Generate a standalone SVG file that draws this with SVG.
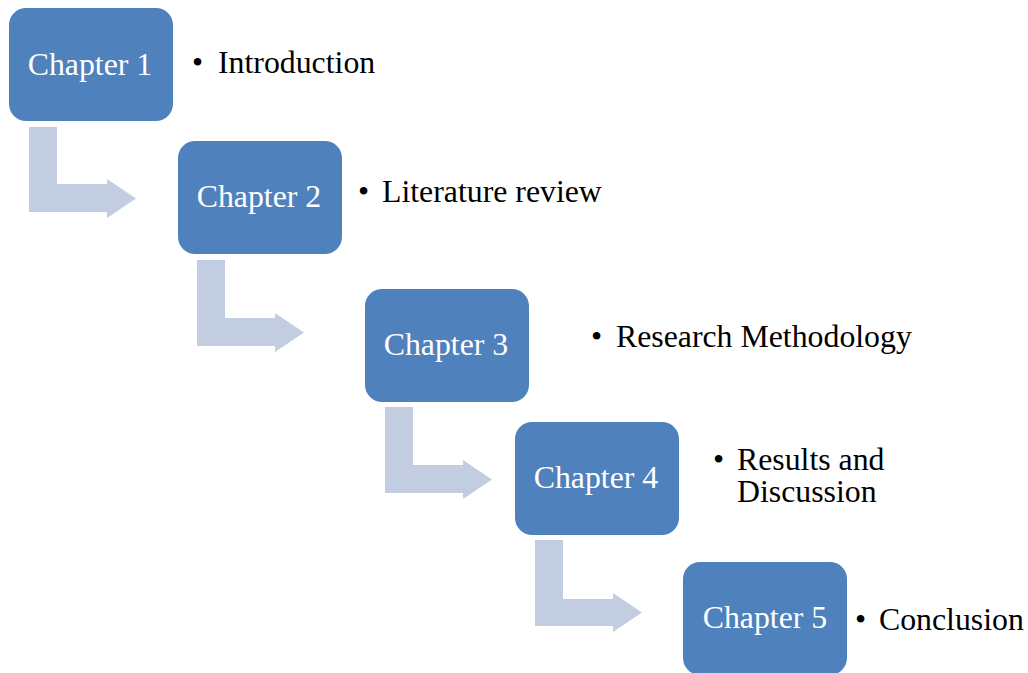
<svg xmlns="http://www.w3.org/2000/svg" width="1028" height="673" viewBox="0 0 1028 673">
<style>
.box{fill:#4F81BD;}
.arr{fill:#C3CDE2;}
.ch{font-family:"Liberation Serif","Times New Roman",serif;font-size:31.8px;fill:#FFFFFF;text-anchor:middle;}
.bl{font-family:"Liberation Serif","Times New Roman",serif;font-size:31.8px;fill:#000000;}
</style>
<rect width="1028" height="673" fill="#FFFFFF"/>
<g id="connectors">
<path class="arr" d="M29,127 H57 V184 H107 V179 L136,198.5 L107,218 V212 H29 Z"/>
<path class="arr" d="M197,260 H225 V318 H275 V313 L304,332.5 L275,352 V346 H197 Z"/>
<path class="arr" d="M385,407 H413 V465 H463 V460 L492,479.5 L463,499 V493 H385 Z"/>
<path class="arr" d="M535,540 H563 V599 H613 V593 L642,612.5 L613,632 V626 H535 Z"/>
</g>
<g id="node1">
<rect class="box" x="9" y="8" width="164" height="113" rx="17"/>
<text class="ch" x="90" y="75">Chapter 1</text>
<text class="bl" x="192" y="73">•</text>
<text class="bl" x="218" y="73">Introduction</text>
</g>
<g id="node2">
<rect class="box" x="178" y="141" width="164" height="113" rx="17"/>
<text class="ch" x="259" y="207">Chapter 2</text>
<text class="bl" x="358" y="202">•</text>
<text class="bl" x="382" y="202">Literature review</text>
</g>
<g id="node3">
<rect class="box" x="365" y="289" width="164" height="113" rx="17"/>
<text class="ch" x="446" y="355">Chapter 3</text>
<text class="bl" x="591" y="347">•</text>
<text class="bl" x="616" y="347">Research Methodology</text>
</g>
<g id="node4">
<rect class="box" x="515" y="422" width="164" height="113" rx="17"/>
<text class="ch" x="596" y="488">Chapter 4</text>
<text class="bl" x="713" y="470">•</text>
<text class="bl" x="737" y="470">Results and</text>
<text class="bl" x="737" y="502">Discussion</text>
</g>
<g id="node5">
<rect class="box" x="683" y="562" width="164" height="113" rx="17"/>
<text class="ch" x="765" y="628">Chapter 5</text>
<text class="bl" x="855" y="630">•</text>
<text class="bl" x="879" y="630">Conclusion</text>
</g>
</svg>
